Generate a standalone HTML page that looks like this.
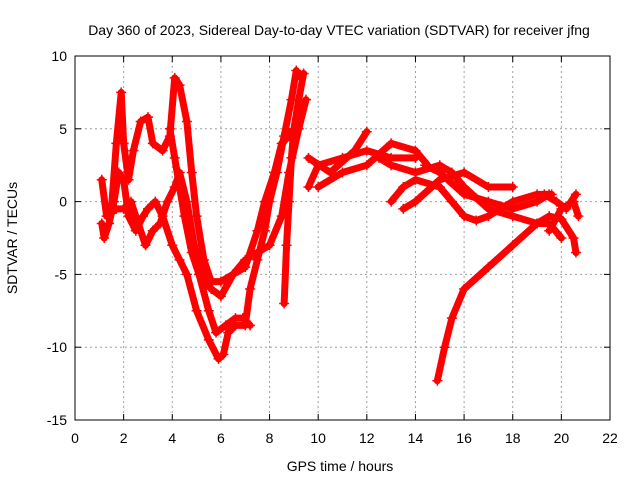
<!DOCTYPE html>
<html><head><meta charset="utf-8"><style>
body{margin:0;background:#fff}
svg{display:block;font-family:"Liberation Sans",sans-serif}
</style></head><body>
<svg id="chart" width="640" height="480" viewBox="0 0 640 480">
<text x="339" y="35" font-size="14" text-anchor="middle">Day 360 of 2023, Sidereal Day-to-day VTEC variation (SDTVAR) for receiver jfng</text>
<text x="340" y="471" font-size="14" text-anchor="middle">GPS time / hours</text>
<text transform="translate(17,238) rotate(-90)" font-size="14" text-anchor="middle">SDTVAR / TECUs</text>
<g id="grid"></g>
<g id="ticks"></g>
<g id="series"></g>
<rect x="75" y="56" width="535" height="364" fill="none" stroke="#000" stroke-width="1"/>
</svg>
<script>
const xTicks=[0,2,4,6,8,10,12,14,16,18,20,22];
const yTicks=[10,5,0,-5,-10,-15];
const T1=[[1.1,-1.5],[1.2,-2.5],[1.4,-1.5],[1.6,0],[1.8,2],[2.0,1.5],[2.2,-1],[2.5,-2],[2.8,-1],[3.0,-0.5],[3.3,0],[3.6,-1],[4.0,-3],[4.3,-4],[4.6,-5],[5.0,-7.5],[5.5,-9.5],[5.9,-10.8],[6.1,-10.5],[6.3,-9],[6.6,-8.5],[7.0,-8.5],[7.2,-6],[7.5,-4],[7.8,-2],[8.0,0],[8.3,2],[8.6,4.5],[8.9,7],[9.1,9],[9.3,8.5]];
const T2=[[1.5,-0.5],[1.7,4],[1.9,7.5],[2.0,4],[2.2,1.5],[2.4,3.5],[2.7,5.5],[3.0,5.8],[3.2,4],[3.6,3.5],[3.9,4.5],[4.1,8.5],[4.3,8],[4.6,5.5],[4.8,2],[5.0,-1],[5.3,-4],[5.6,-5.5],[6.0,-5.5],[6.5,-5],[7.0,-4.5],[7.5,-2],[7.8,0],[8.2,2],[8.5,4],[8.8,4.5],[9.0,5]];
const T3=[[1.1,1.5],[1.3,-1],[1.7,-0.5],[2.0,-0.5],[2.3,0],[2.6,-1.5],[2.9,-3],[3.2,-2],[3.5,-1.5],[3.8,0],[4.1,1],[4.3,2],[4.6,0],[4.9,-3],[5.2,-5],[5.6,-6],[6.0,-6.5],[6.5,-5],[7.0,-4],[7.5,-3.5],[8.0,-3],[8.5,-1],[8.8,2],[9.2,5],[9.5,7]];
const T4=[[3.9,5],[4.1,3],[4.3,1],[4.5,-1],[4.8,-3.5],[5.1,-5],[5.5,-7.5],[5.8,-9],[6.2,-8.5],[6.6,-8],[6.9,-8],[7.2,-8.5]];
const T5=[[8.6,-7],[8.7,-3],[8.8,0],[8.9,3],[9.0,5],[9.2,7],[9.4,8.8]];
const T6=[[9.6,1],[10,2.5],[11,3],[12,3.5],[13,3],[14,3]];
const T7=[[9.6,3],[10.5,2],[11.5,3.5],[12,4.8]];
const T8=[[10,1],[11,2],[12,2.5],[13,4],[14,3.5],[14.5,2.5]];
const T9=[[12.5,3],[13,2.5],[14,2],[15,2.5],[15.5,2],[16,1],[17,-0.5],[18,-1],[19,-1.5],[19.5,-1.5],[20,-2.5]];
const T10=[[13,0],[13.5,1],[14,1.5],[15,1],[15.5,0],[16,-1],[16.5,-1.3],[17,-1],[18,0],[19,0.5],[19.6,0.5]];
const T11=[[13.5,-0.5],[14,0],[15,1.5],[16,2],[17,1],[18,1]];
const T12=[[14.4,2.5],[15,2],[16,0.5],[17,0],[18,-0.5],[19,0],[19.5,0.5]];
const T13=[[14.9,-12.3],[15.2,-10],[15.5,-8],[16,-6],[17,-4.5],[18,-3],[19,-1.5],[19.5,-1],[20,-1.2],[20.5,-2.5],[20.6,-3.5]];
const T14=[[19.5,-2],[20,-0.5],[20.5,0],[20.7,-1]];
const T15=[[19.3,0.5],[19.8,0],[20.2,-0.5],[20.6,0.5]];
const tracks=[T1,T2,T3,T4,T5,T6,T7,T8,T9,T10,T11,T12,T13,T14,T15];
const NS='http://www.w3.org/2000/svg';
const X0=75,X1=610,Y0=56,Y1=420;
function sx(v){return X0+(v-0)/(22-0)*(X1-X0);}
function sy(v){return Y0+(10-v)/(10+15)*(Y1-Y0);}
function mk(t,a,p){const e=document.createElementNS(NS,t);for(const k in a)e.setAttribute(k,a[k]);p.appendChild(e);return e;}
const grid=document.getElementById('grid'),ticks=document.getElementById('ticks'),ser=document.getElementById('series');
xTicks.forEach(v=>{const x=sx(v);
 if(v>0&&v<22){const l=mk('line',{x1:x,x2:x,y1:Y0,y2:Y1,stroke:'#a0a0a0','stroke-dasharray':'2,3'},grid);}
 mk('line',{x1:x,x2:x,y1:Y1,y2:Y1-6,stroke:'#000'},ticks);mk('line',{x1:x,x2:x,y1:Y0,y2:Y0+6,stroke:'#000'},ticks);
 const t=mk('text',{x:x,y:443,'font-size':14,'text-anchor':'middle'},ticks);t.textContent=v;
 });
yTicks.forEach(v=>{const y=sy(v);
 if(v<10&&v>-15){const l=mk('line',{x1:X0,x2:X1,y1:y,y2:y,stroke:'#a0a0a0','stroke-dasharray':'2,3'},grid);}
 mk('line',{x1:X0,x2:X0+6,y1:y,y2:y,stroke:'#000'},ticks);mk('line',{x1:X1,x2:X1-6,y1:y,y2:y,stroke:'#000'},ticks);
 const t=mk('text',{x:X0-8,y:y+5,'font-size':14,'text-anchor':'end'},ticks);t.textContent=v;
 });
tracks.forEach((tr,i)=>{
 const p=mk('polyline',{points:tr.map(d=>sx(d[0])+','+sy(d[1])).join(' '),fill:'none',stroke:'#f00','stroke-width':7,'stroke-linejoin':'round','stroke-linecap':'round'},ser);
 
 
 tr.forEach(d=>{const x=sx(d[0]),y=sy(d[1]);
  const m=mk('path',{d:`M${x-5},${y}H${x+5}M${x},${y-5}V${y+5}`,stroke:'#f00','stroke-width':1.5},ser);
  
  });
});
</script>
</body></html>
